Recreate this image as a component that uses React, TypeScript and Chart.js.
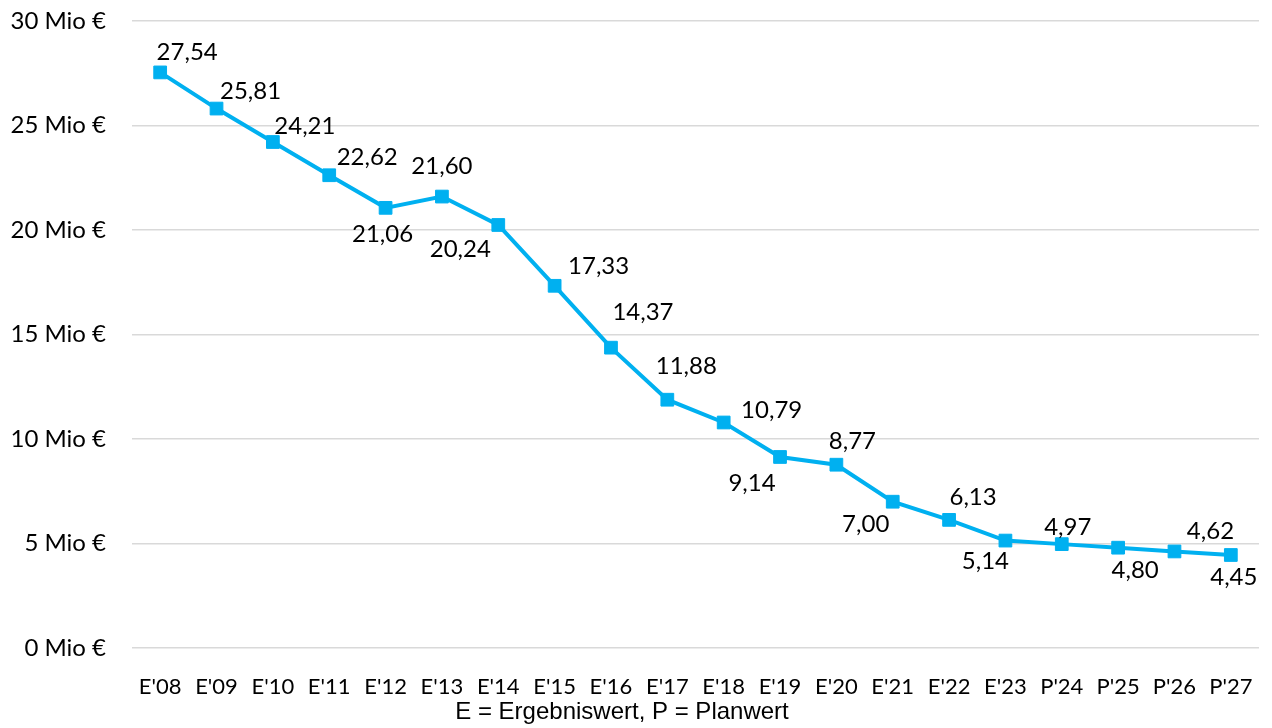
import React, { useEffect, useRef } from "react";
import { Chart, registerables } from "chart.js";

Chart.register(...registerables);

const categories = ["E'08", "E'09", "E'10", "E'11", "E'12", "E'13", "E'14", "E'15", "E'16", "E'17", "E'18", "E'19", "E'20", "E'21", "E'22", "E'23", "P'24", "P'25", "P'26", "P'27"];
const values = [27.54, 25.81, 24.21, 22.62, 21.06, 21.6, 20.24, 17.33, 14.37, 11.88, 10.79, 9.14, 8.77, 7.0, 6.13, 5.14, 4.97, 4.8, 4.62, 4.45];
const yTicks = [0, 5, 10, 15, 20, 25, 30];
const footnote = "E = Ergebniswert, P = Planwert";

// label offsets (pixels) relative to each point: [dx, dy]
const labelOffsets: [number, number][] = [
  [27, -20], [34, -17], [32, -16], [38, -18], [-3, 26], [0, -30], [-38, 24], [44, -20],
  [32, -35], [19, -33], [48, -12], [-28, 26], [16, -23], [-27, 23], [24, -23], [-20, 21],
  [6, -17], [17, 23], [36, -20], [3, 22],
];

const COLOR = "#00B0F0";
const FONT = "Lato, 'Open Sans', sans-serif";

const fmt = (v: number) => v.toFixed(2).replace(".", ",");

const labelPlugin = {
  id: "valueLabels",
  afterDatasetsDraw(chart: any) {
    const ctx = chart.ctx;
    const meta = chart.getDatasetMeta(0);
    ctx.save();
    ctx.font = `24px ${FONT}`;
    ctx.fillStyle = "#000";
    ctx.textAlign = "center";
    ctx.textBaseline = "middle";
    meta.data.forEach((pt: any, i: number) => {
      const [dx, dy] = labelOffsets[i] || [0, -20];
      ctx.fillText(fmt(values[i]), pt.x + dx, pt.y + dy);
    });
    ctx.restore();
  },
};

const footnotePlugin = {
  id: "footnote",
  afterDraw(chart: any) {
    const ctx = chart.ctx;
    ctx.save();
    ctx.font = "24px 'Liberation Sans', Arial, sans-serif";
    ctx.fillStyle = "#000";
    ctx.textAlign = "center";
    ctx.textBaseline = "middle";
    ctx.fillText(footnote, chart.width / 2 - 14, chart.height - 16);
    ctx.restore();
  },
};

export default function App() {
  const ref = useRef<HTMLCanvasElement | null>(null);
  useEffect(() => {
    document.body.style.margin = "0";
    const chart = new Chart(ref.current as HTMLCanvasElement, {
      type: "line",
      data: {
        labels: categories,
        datasets: [
          {
            data: values,
            borderColor: COLOR,
            backgroundColor: COLOR,
            borderWidth: 4,
            pointStyle: "rect",
            pointRadius: 9,
            pointBorderWidth: 1,
            pointBorderColor: COLOR,
            pointBackgroundColor: COLOR,
            tension: 0,
          },
        ],
      },
      options: {
        animation: false,
        responsive: false,
        layout: { padding: { top: 21, right: 13, left: 0, bottom: 0 } },
        plugins: { legend: { display: false }, tooltip: { enabled: false } },
        scales: {
          x: {
            offset: true,
            grid: { display: false, drawTicks: false },
            border: { display: false },
            ticks: { color: "#000", font: { family: FONT, size: 22 }, padding: 26, maxRotation: 0, autoSkip: false },
            afterFit: (s: any) => { s.height = 80; s.paddingLeft = 0; s.paddingRight = 0; },
          },
          y: {
            min: 0,
            max: 30,
            afterBuildTicks: (s: any) => { s.ticks = yTicks.map((v) => ({ value: v })); },
            grid: { color: "#d9d9d9", lineWidth: 1.5, drawTicks: false },
            border: { display: false },
            ticks: { color: "#000", font: { family: FONT, size: 24 }, padding: 26, callback: (v: any) => `${v} Mio €` },
            afterFit: (s: any) => { s.width = 132; s.paddingTop = 0; s.paddingBottom = 0; },
          },
        },
      },
      plugins: [labelPlugin, footnotePlugin],
    });
    return () => chart.destroy();
  }, []);
  return (
    <div style={{ position: "fixed", left: 0, top: 0, width: 1272, height: 728 }}>
      <canvas ref={ref} width={1272} height={728} style={{ width: 1272, height: 728 }} />
    </div>
  );
}
